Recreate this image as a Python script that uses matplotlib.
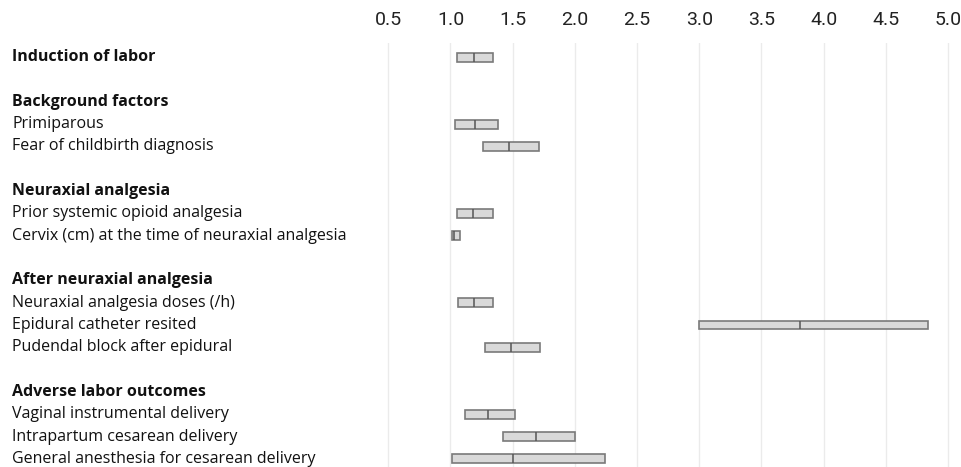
import matplotlib
matplotlib.use("Agg")
import matplotlib.pyplot as plt
import matplotlib.transforms as mtransforms
import numpy as np

# === DATA ===
row_labels = [
    "Induction of labor",
    "",
    "Background factors",
    "Primiparous",
    "Fear of childbirth diagnosis",
    "",
    "Neuraxial analgesia",
    "Prior systemic opioid analgesia",
    "Cervix (cm) at the time of neuraxial analgesia",
    "",
    "After neuraxial analgesia",
    "Neuraxial analgesia doses (/h)",
    "Epidural catheter resited",
    "Pudendal block after epidural",
    "",
    "Adverse labor outcomes",
    "Vaginal instrumental delivery",
    "Intrapartum cesarean delivery",
    "General anesthesia for cesarean delivery",
]
bold_rows = [True, False, True, False, False, False, True, False, False, False,
             True, False, False, False, False, True, False, False, False]

# odds ratio and 95% CI (None = no bar on that row)
ci_low = [1.05, None, None, 1.04, 1.26, None, None, 1.05, 1.01, None,
          None, 1.06, 3.00, 1.28, None, None, 1.12, 1.42, 1.01]
estimate = [1.19, None, None, 1.20, 1.47, None, None, 1.18, 1.03, None,
            None, 1.19, 3.81, 1.49, None, None, 1.30, 1.69, 1.50]
ci_high = [1.34, None, None, 1.38, 1.71, None, None, 1.34, 1.08, None,
           None, 1.34, 4.84, 1.72, None, None, 1.52, 2.00, 2.24]

x_ticks = [0.5, 1.0, 1.5, 2.0, 2.5, 3.0, 3.5, 4.0, 4.5, 5.0]

# === PLOT ===
fig = plt.figure(figsize=(9.61, 4.67), dpi=100)
ax = fig.add_axes([370 / 961, 0, (958 - 370) / 961, (467 - 43) / 467])

box_h = 0.4
for i in range(len(row_labels)):
    if ci_low[i] is None:
        continue
    ax.barh(i, ci_high[i] - ci_low[i], left=ci_low[i], height=box_h,
            color="#d9d9d9", edgecolor="#7a7a7a", linewidth=1.2, zorder=3)
    ax.vlines(estimate[i], i - box_h / 2, i + box_h / 2,
              color="#555555", linewidth=1.1, zorder=4)

ax.set_xlim(0.353, 5.08)
ax.set_ylim(18.36, -0.63)
ax.set_xticks(x_ticks)
ax.set_xticklabels([f"{t:.1f}" for t in x_ticks], fontsize=14,
                   family="Roboto", color="#222222")
ax.xaxis.tick_top()
ax.tick_params(axis="x", length=0, pad=10)
ax.set_yticks([])
ax.grid(axis="x", color="#ebebeb", linewidth=1.0, zorder=0)
for s in ax.spines.values():
    s.set_visible(False)

# row labels on the left, in figure x / data y
trans = mtransforms.blended_transform_factory(fig.transFigure, ax.transData)
for i, lab in enumerate(row_labels):
    if not lab:
        continue
    ax.text(12 / 961, i, lab, transform=trans, ha="left", va="center",
            fontsize=11.5, family="Open Sans",
            fontweight="bold" if bold_rows[i] else "normal", color="#111111")

fig.savefig("out.png", dpi=100)
